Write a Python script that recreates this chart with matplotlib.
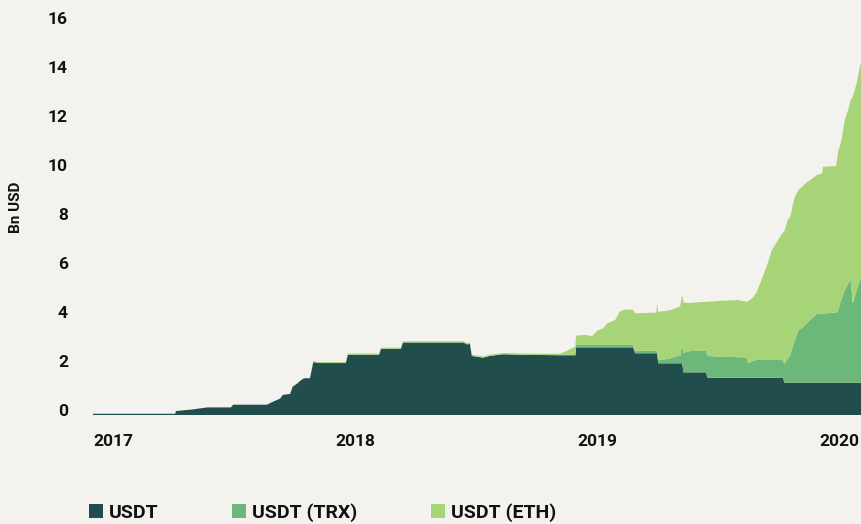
import numpy as np
import pandas as pd
import matplotlib
matplotlib.use("Agg")
import matplotlib.pyplot as plt
import matplotlib.dates as mdates
import matplotlib.transforms as mtransforms
from matplotlib.patches import Patch

plt.rcParams["font.family"] = ["Roboto", "DejaVu Sans"]
plt.rcParams["font.weight"] = "bold"

# dates of the sampled points (stacked supply, Bn USD)
dates = [
    "2017-01-01", "2017-05-05", "2017-05-06", "2017-06-01", "2017-06-22", "2017-07-28",
    "2017-07-31", "2017-09-20", "2017-09-29", "2017-10-10", "2017-10-14", "2017-10-25",
    "2017-10-29", "2017-11-05", "2017-11-09", "2017-11-15", "2017-11-24", "2017-11-29",
    "2017-12-09", "2018-01-17", "2018-01-20", "2018-03-08", "2018-03-11", "2018-04-10",
    "2018-04-13", "2018-07-13", "2018-07-19", "2018-07-23", "2018-07-26", "2018-08-12",
    "2018-08-22", "2018-09-11", "2018-10-07", "2018-11-06", "2018-12-06", "2018-12-13",
    "2018-12-29", "2018-12-30", "2019-01-13", "2019-01-23", "2019-01-31", "2019-02-09",
    "2019-02-15", "2019-02-27", "2019-03-06", "2019-03-14", "2019-03-26", "2019-03-29",
    "2019-04-30", "2019-05-01", "2019-05-03", "2019-05-06", "2019-05-21", "2019-05-25",
    "2019-06-02", "2019-06-05", "2019-06-08", "2019-06-10", "2019-06-20", "2019-07-14",
    "2019-07-16", "2019-08-04", "2019-08-31", "2019-09-14", "2019-09-15", "2019-09-22",
    "2019-09-28", "2019-10-06", "2019-10-14", "2019-10-21", "2019-10-26", "2019-11-03",
    "2019-11-07", "2019-11-09", "2019-11-14", "2019-11-18", "2019-11-21", "2019-11-25",
    "2019-11-30", "2019-12-07", "2019-12-13", "2019-12-18", "2019-12-28", "2020-01-05",
    "2020-01-06", "2020-01-26", "2020-01-29", "2020-02-01", "2020-02-04", "2020-02-08",
    "2020-02-13", "2020-02-17", "2020-02-20", "2020-02-26", "2020-03-02", "2020-03-06",
]

usdt = [
    0.05, 0.05, 0.16, 0.23, 0.31, 0.31,
    0.42, 0.42, 0.54, 0.67, 0.82, 0.86,
    1.16, 1.29, 1.39, 1.50, 1.50, 2.16,
    2.12, 2.12, 2.46, 2.46, 2.70, 2.70,
    2.96, 2.96, 2.88, 2.91, 2.41, 2.34,
    2.41, 2.48, 2.46, 2.45, 2.44, 2.44,
    2.44, 2.76, 2.76, 2.76, 2.76, 2.76,
    2.76, 2.76, 2.76, 2.76, 2.76, 2.52,
    2.52, 2.52, 2.11, 2.11, 2.11, 2.11,
    2.11, 2.11, 2.11, 1.74, 1.74, 1.74,
    1.52, 1.52, 1.52, 1.52, 1.52, 1.52,
    1.52, 1.52, 1.52, 1.52, 1.52, 1.52,
    1.52, 1.32, 1.32, 1.32, 1.32, 1.32,
    1.32, 1.32, 1.32, 1.32, 1.32, 1.32,
    1.32, 1.32, 1.32, 1.32, 1.32, 1.32,
    1.32, 1.32, 1.32, 1.32, 1.32, 1.32,
]

usdt_trx = [
    0, 0, 0, 0, 0, 0,
    0, 0, 0, 0, 0, 0,
    0, 0, 0, 0, 0, 0,
    0, 0, 0, 0, 0, 0,
    0, 0, 0, 0, 0, 0,
    0, 0, 0, 0, 0, 0,
    0, 0.10, 0.10, 0.10, 0.10, 0.10,
    0.10, 0.10, 0.10, 0.10, 0.10, 0.10,
    0.10, 0.10, 0.13, 0.13, 0.20, 0.24,
    0.30, 0.30, 0.75, 0.80, 0.87, 0.88,
    0.89, 0.86, 0.84, 0.83, 0.59, 0.68,
    0.73, 0.75, 0.75, 0.75, 0.75, 0.72,
    0.72, 0.76, 0.98, 1.13, 1.43, 1.74,
    2.15, 2.26, 2.43, 2.56, 2.80, 2.82,
    2.82, 2.86, 2.93, 3.24, 3.48, 3.78,
    4.03, 4.19, 3.24, 3.78, 4.19, 4.28,
]

usdt_eth = [
    0, 0, 0, 0, 0, 0,
    0, 0, 0, 0, 0, 0,
    0, 0, 0, 0, 0, 0.04,
    0.04, 0.04, 0.05, 0.05, 0.05, 0.05,
    0.05, 0.05, 0.05, 0.05, 0.05, 0.05,
    0.05, 0.05, 0.05, 0.05, 0.06, 0.14,
    0.35, 0.38, 0.41, 0.36, 0.58, 0.68,
    0.88, 1.02, 1.36, 1.45, 1.43, 1.53,
    1.56, 1.94, 1.96, 1.98, 1.97, 1.96,
    1.99, 2.04, 2.04, 2.04, 1.97, 2.00,
    2.21, 2.28, 2.33, 2.27, 2.53, 2.58,
    2.75, 3.28, 3.85, 4.46, 4.67, 5.06,
    5.21, 5.42, 5.66, 5.64, 5.75, 5.85,
    5.71, 5.77, 5.75, 5.71, 5.68, 5.72,
    5.99, 5.98, 6.50, 6.44, 6.56, 6.94,
    7.10, 7.34, 8.43, 8.44, 8.74, 8.90,
]

series_labels = ["USDT", "USDT (TRX)", "USDT (ETH)"]
colors = ["#224d4d", "#6cb77a", "#a8d478"]
y_ticks = [0, 2, 4, 6, 8, 10, 12, 14, 16]
x_ticks = ["2017-01-01", "2018-01-01", "2019-01-01", "2020-01-01"]

bg = "#f3f2ee"
ink = "#111111"
x = pd.to_datetime(dates)

fig = plt.figure(figsize=(8.62, 5.24), dpi=100, facecolor=bg)
ax = fig.add_axes([93 / 862, 109 / 524, 1 - 93 / 862, 415 / 524])
ax.set_facecolor(bg)

ax.stackplot(x, usdt, usdt_trx, usdt_eth, colors=colors, linewidth=0)

ax.set_xlim(pd.Timestamp("2017-01-01"), pd.Timestamp("2020-03-05"))
ax.set_ylim(0, 16.94)

for s in ax.spines.values():
    s.set_visible(False)

ax.set_yticks(y_ticks)
ax.set_yticklabels([str(v) for v in y_ticks])
ax.set_xticks(pd.to_datetime(x_ticks))
ax.xaxis.set_major_formatter(mdates.DateFormatter("%Y"))
ax.tick_params(axis="y", length=0, pad=18, labelsize=12.5, labelcolor=ink)
ax.tick_params(axis="x", length=0, pad=14, labelsize=12.5, labelcolor=ink)

# y labels sit a few px above their level, x labels start at the tick
shift_up = mtransforms.ScaledTranslation(0, 5 / 100, fig.dpi_scale_trans)
for lbl in ax.get_yticklabels():
    lbl.set_transform(lbl.get_transform() + shift_up)
    lbl.set_fontweight("bold")
for lbl in ax.get_xticklabels():
    lbl.set_horizontalalignment("left")
    lbl.set_fontweight("bold")

fig.text(16 / 862, 1 - 207 / 524, "Bn USD", rotation=90, ha="center", va="center",
         fontsize=11, fontweight="bold", color=ink)

handles = [Patch(facecolor=c, edgecolor="none", label=l) for c, l in zip(colors, series_labels)]
leg = fig.legend(handles=handles, loc="lower left", bbox_to_anchor=(75 / 862, -0.022),
                 ncol=3, frameon=False, handlelength=0.72, handleheight=0.72,
                 handletextpad=0.3, columnspacing=3.8, borderaxespad=0.3,
                 prop={"weight": "bold", "size": 14})
for t in leg.get_texts():
    t.set_color(ink)

fig.savefig("out.png", dpi=100, facecolor=bg)
